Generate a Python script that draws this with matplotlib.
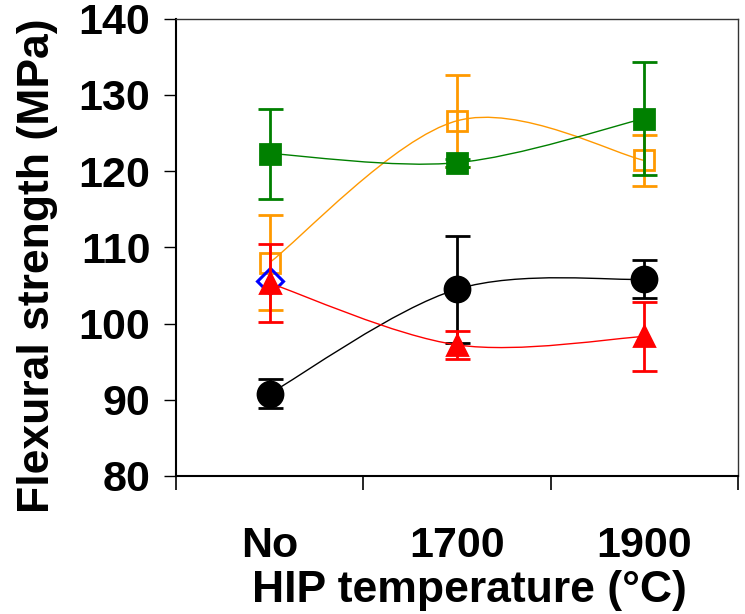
import matplotlib
matplotlib.use("Agg")
import matplotlib.pyplot as plt
from matplotlib.path import Path
from matplotlib.patches import PathPatch
import numpy as np

plt.rcParams['font.family'] = ['Liberation Sans', 'DejaVu Sans']
plt.rcParams['font.weight'] = 'bold'

categories = ["No", "1700", "1900"]
x_pos = [0.5, 1.5, 2.5]

green_vals = [122.3, 121.1, 126.9]
green_err = [5.9, 0.5, 7.4]
orange_vals = [108.0, 126.6, 121.4]
orange_err = [6.2, 6.0, 3.3]
red_vals = [105.3, 97.2, 98.3]
red_err = [5.1, 1.8, 4.5]
black_vals = [90.8, 104.5, 105.8]
black_err = [1.9, 7.0, 2.5]
blue_vals = [105.6]

fig = plt.figure(figsize=(7.45, 6.14), dpi=100)
ax = fig.add_axes([0.2362, 0.2248, 0.7544, 0.7448])


def smooth_path(xs, ys, color, z):
    # Catmull-Rom style Bezier smoothing through the data points (Excel-like smoothed line)
    pts = list(zip(xs, ys))
    n = len(pts)
    verts = [pts[0]]
    codes = [Path.MOVETO]
    for i in range(n - 1):
        p0 = pts[i - 1] if i > 0 else pts[i]
        p1 = pts[i]
        p2 = pts[i + 1]
        p3 = pts[i + 2] if i + 2 < n else pts[i + 1]
        c1 = (p1[0] + (p2[0] - p0[0]) / 6, p1[1] + (p2[1] - p0[1]) / 6)
        c2 = (p2[0] - (p3[0] - p1[0]) / 6, p2[1] - (p3[1] - p1[1]) / 6)
        verts += [c1, c2, p2]
        codes += [Path.CURVE4] * 3
    patch = PathPatch(Path(verts, codes), facecolor='none', edgecolor=color,
                      lw=1.0, zorder=z)
    ax.add_patch(patch)


series = [
    (orange_vals, orange_err, '#FF9900', 's', 'none', 14, 2),
    (green_vals, green_err, '#008000', 's', '#008000', 15, 3),
    (black_vals, black_err, 'black', 'o', 'black', 18, 4),
    (red_vals, red_err, '#FF0000', '^', '#FF0000', 15, 6),
]

for vals, err, col, mk, fc, ms, z in series:
    smooth_path(x_pos, vals, col, z)
    ax.errorbar(x_pos, vals, yerr=err, fmt='none', ecolor=col, elinewidth=2,
                capsize=9, capthick=2, zorder=z)
    ax.plot(x_pos, vals, linestyle='none', marker=mk, markersize=ms,
            markerfacecolor=fc, markeredgecolor=col, markeredgewidth=2, zorder=z + 0.5)

ax.plot(x_pos[:1], blue_vals, linestyle='none', marker='D', markersize=13,
        markerfacecolor='none', markeredgecolor='#0000FF', markeredgewidth=2.2, zorder=5)

ax.set_xlim(0, 3)
ax.set_ylim(80, 140)
ax.set_yticks(np.arange(80, 141, 10))
ax.set_xticks([0, 1, 2, 3])
ax.set_xticklabels([])
ax.set_xticks(x_pos, minor=True)
ax.set_xticklabels(categories, minor=True)

ax.tick_params(axis='x', which='major', direction='out', length=10, width=1.2, color='black')
ax.tick_params(axis='x', which='minor', length=0, pad=36, labelsize=31)
ax.tick_params(axis='y', direction='out', length=8.5, width=1.0, labelsize=31, pad=10)
for lab in ax.get_xticklabels(minor=True) + ax.get_yticklabels():
    lab.set_fontweight('bold')

ax.spines['left'].set_linewidth(1.5)
ax.spines['bottom'].set_linewidth(1.5)
ax.spines['top'].set_linewidth(1.0)
ax.spines['right'].set_linewidth(1.0)
ax.spines['top'].set_color('#333333')
ax.spines['right'].set_color('#333333')

ax.set_ylabel("Flexural strength (MPa)", fontsize=32, fontweight='bold')
ax.set_xlabel("HIP temperature (°C)", fontsize=32, fontweight='bold')
ax.yaxis.set_label_coords(-0.21, 0.46)
ax.xaxis.set_label_coords(0.523, -0.205)

fig.savefig("out.png", dpi=100)
